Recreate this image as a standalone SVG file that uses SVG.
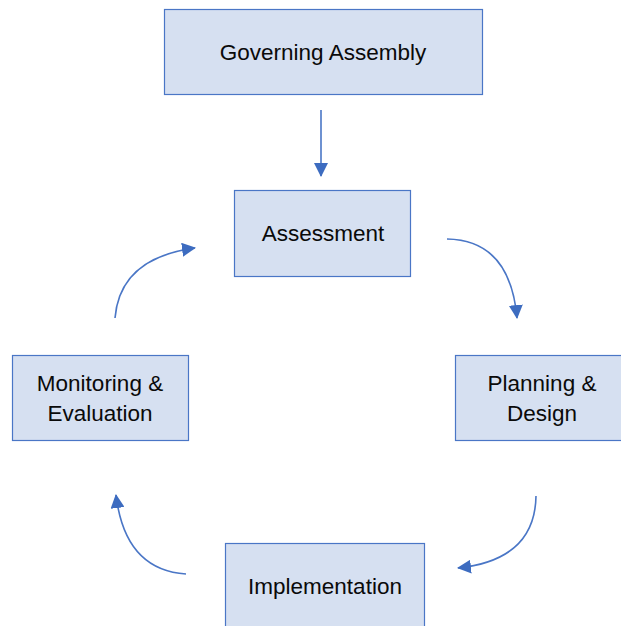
<svg xmlns="http://www.w3.org/2000/svg" width="621" height="626" viewBox="0 0 621 626">
<defs>
<style>
.box{fill:#d6e0f1;stroke:#4a76c6;stroke-width:1.2}
.lbl{font-family:"Liberation Sans",Arial,sans-serif;font-size:22.5px;fill:#0a0a0a;text-anchor:middle}
.con{fill:none;stroke:#4a76c6;stroke-width:1.6}
</style>
<marker id="ah" markerUnits="userSpaceOnUse" markerWidth="14" markerHeight="14" viewBox="0 0 14 14" refX="13" refY="7" orient="auto">
<path d="M0,0 L14,7 L0,14 Z" fill="#3d6cc0"/>
</marker>
</defs>
<rect width="621" height="626" fill="#fff"/>
<g id="governing-assembly">
<rect class="box" x="164.5" y="9.5" width="318" height="85"/>
<text class="lbl" x="323" y="60">Governing Assembly</text>
</g>
<g id="assessment">
<rect class="box" x="234.5" y="190.5" width="176" height="86"/>
<text class="lbl" x="323" y="241">Assessment</text>
</g>
<g id="monitoring-evaluation">
<rect class="box" x="12.5" y="355.5" width="176" height="85"/>
<text class="lbl" x="100" y="391">Monitoring &amp;</text>
<text class="lbl" x="100" y="421">Evaluation</text>
</g>
<g id="planning-design">
<rect class="box" x="455.5" y="355.5" width="175" height="85"/>
<text class="lbl" x="542" y="391">Planning &amp;</text>
<text class="lbl" x="542" y="421">Design</text>
</g>
<g id="implementation">
<rect class="box" x="225.5" y="543.5" width="199" height="100"/>
<text class="lbl" x="325" y="594">Implementation</text>
</g>
<g id="connectors">
<path class="con" d="M321,110 L321,176" marker-end="url(#ah)"/>
<path class="con" d="M115,318 Q120,258 195,248" marker-end="url(#ah)"/>
<path class="con" d="M447,239 Q510,240 517,318" marker-end="url(#ah)"/>
<path class="con" d="M536,496 Q535,560 458,568" marker-end="url(#ah)"/>
<path class="con" d="M186,574 Q125,570 116,495" marker-end="url(#ah)"/>
</g>
</svg>
